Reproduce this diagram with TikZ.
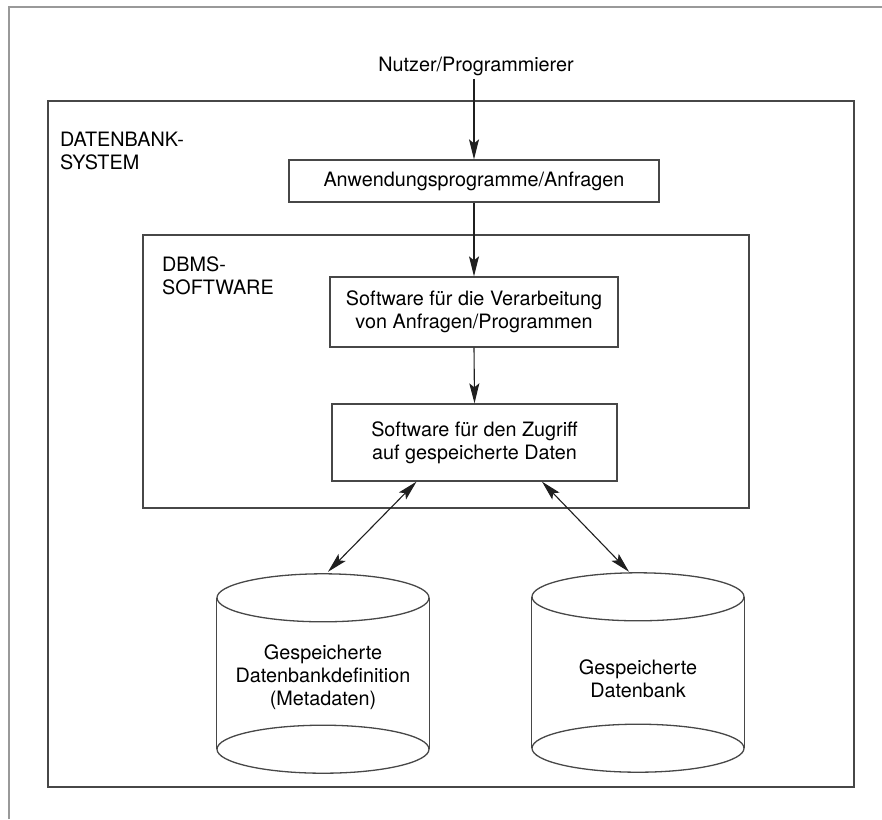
\documentclass[tikz,border=0pt]{standalone}
\usepackage{fontspec}
\setmainfont{TeX Gyre Heros}
\usetikzlibrary{arrows.meta,calc}
\begin{document}
\begin{tikzpicture}[x=1pt,y=-1pt,
  font=\fontsize{19.8}{23}\selectfont,
  frame/.style={draw=black!72, line width=1.3pt},
  box/.style={frame, inner sep=0pt, align=center},
  area/.style={frame, inner sep=0pt},
  lbl/.style={anchor=north west, inner sep=0pt, align=left},
  tip/.tip={Stealth[length=20pt,width=10pt,inset=4pt]},
  flow/.style={draw=black!88, line width=1.1pt, -tip},
  both/.style={draw=black!88, line width=1.1pt, tip-tip},
  edgeline/.style={draw=black!40, line width=1.2pt},
  cyl/.style={inner sep=0pt, minimum width=212pt, minimum height=199pt}]

\useasboundingbox (0,0) rectangle (882,819);

% page edge lines
\draw[edgeline] (9,819) -- (9,7) -- (882,7);

% enclosing system and DBMS areas
\node[area, minimum width=806pt, minimum height=686pt] (sys) at (451,444) {};
\node[lbl] (syslbl) at (60,132) {DATENBANK-\\SYSTEM};
\node[area, minimum width=606pt, minimum height=273pt] (dbms) at (446,371.5) {};
\node[lbl] (dbmslbl) at (162,257) {DBMS-\\SOFTWARE};

% user and processing chain
\node[anchor=base] (user) at (476,71) {Nutzer/Programmierer};
\node[box, minimum width=370pt, minimum height=42pt] (anw) at (474,181) {Anwendungsprogramme/Anfragen};
\node[box, minimum width=288pt, minimum height=70pt] (verarb) at (474,312) {Software für die Verarbeitung\\von Anfragen/Programmen};
\node[box, minimum width=285pt, minimum height=77pt] (zug) at (474.5,442.5) {Software für den Zugriff\\auf gespeicherte Daten};

% stored data cylinders
\node[cyl] (db1) at (323,673.5) {};
\node[cyl] (db2) at (638,672.5) {};
\foreach \c in {db1,db2} {
  \draw[frame] ($(\c.north)+(0,24)$) ellipse [x radius=106pt, y radius=24pt];
  \draw[frame] ($(\c.south)+(0,-24)$) ellipse [x radius=106pt, y radius=24pt];
  \draw[frame] ($(\c.north west)+(0,24)$) -- ($(\c.south west)+(0,-24)$);
  \draw[frame] ($(\c.north east)+(0,24)$) -- ($(\c.south east)+(0,-24)$);
}
\node[align=center] (db1txt) at ($(db1)+(0,4)$) {Gespeicherte\\Datenbankdefinition\\(Metadaten)};
\node[align=center] (db2txt) at ($(db2)+(0,6)$) {Gespeicherte\\Datenbank};

% connectors
\draw[flow] (user.south -| anw.north) -- (anw.north);
\draw[flow] (anw.south) -- (verarb.north);
\draw[flow] (verarb.south) -- (zug.north);
\draw[both] ($(zug.south)+(-58,0)$) -- ($(db1.north)+(5,-2)$);
\draw[both] ($(zug.south)+(67.5,0)$) -- ($(db2.north)+(-9,-1)$);
\end{tikzpicture}
\end{document}
